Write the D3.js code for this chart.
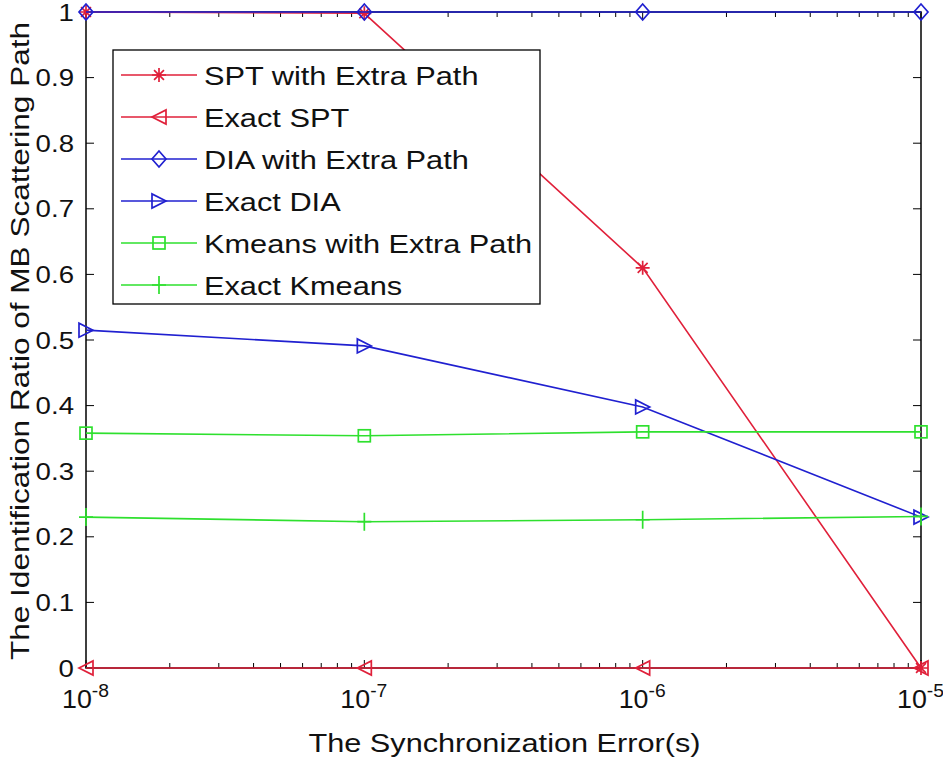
<!DOCTYPE html>
<html><head><meta charset="utf-8">
<script src="https://d3js.org/d3.v7.min.js"></script>
<style>body{margin:0;background:#fff}svg{display:block;font-family:"Liberation Sans",Arial,sans-serif}</style>
</head><body><svg id="c" width="943" height="760"></svg>
<script>
const xValues = [1e-8, 1e-7, 1e-6, 1e-5];
const xTickExponents = [-8, -7, -6, -5];
const yTicks = [0, 0.1, 0.2, 0.3, 0.4, 0.5, 0.6, 0.7, 0.8, 0.9, 1];
const seriesNames = ["SPT with Extra Path", "Exact SPT", "DIA with Extra Path", "Exact DIA", "Kmeans with Extra Path", "Exact Kmeans"];
const sptExtra = [1, 0.998, 0.61, 0];
const sptExact = [0, 0, 0, 0];
const diaExtra = [1, 1, 1, 1];
const diaExact = [0.515, 0.491, 0.398, 0.230];
const kmeansExtra = [0.358, 0.354, 0.360, 0.360];
const kmeansExact = [0.230, 0.223, 0.226, 0.231];
const seriesColors = ["#e0203a", "#e0203a", "#2020d0", "#2020d0", "#2ee02e", "#2ee02e"];
const seriesMarkers = ["star", "triLeft", "diamond", "triRight", "square", "plus"];
const xLabel = "The Synchronization Error(s)";
const yLabel = "The Identification Ratio of MB Scattering Path";

const allSeries = [sptExtra, sptExact, diaExtra, diaExact, kmeansExtra, kmeansExact];
const svg = d3.select("#c");
const L = 86, R = 921, T = 12, B = 668;
const x = d3.scaleLog().domain([1e-8, 1e-5]).range([L, R]);
const y = d3.scaleLinear().domain([0, 1]).range([B, T]);

function stretch(t, k) {
  const w = t.node().getComputedTextLength();
  t.attr("textLength", w * k).attr("lengthAdjust", "spacingAndGlyphs");
  return t;
}

// axes box
const ax = svg.append("g");
ax.append("rect").attr("x", L).attr("y", T).attr("width", R - L).attr("height", B - T)
  .attr("fill", "none").attr("stroke", "#000").attr("stroke-width", 1.5);
yTicks.forEach(v => {
  ax.append("line").attr("x1", L).attr("x2", L + 8).attr("y1", y(v)).attr("y2", y(v)).attr("stroke", "#000");
  ax.append("line").attr("x1", R).attr("x2", R - 8).attr("y1", y(v)).attr("y2", y(v)).attr("stroke", "#000");
  const t = ax.append("text").attr("x", L - 12).attr("y", y(v) + 8.5).attr("text-anchor", "end")
    .attr("font-size", 24).attr("fill", "#111").text(v === 0 ? "0" : v === 1 ? "1" : d3.format(".1f")(v));
  stretch(t, 1.15);
});
const minors = [];
for (let e = -8; e < -5; e++) for (let m = 2; m <= 9; m++) minors.push(m * Math.pow(10, e));
minors.forEach(v => {
  ax.append("line").attr("x1", x(v)).attr("x2", x(v)).attr("y1", B).attr("y2", B - 5).attr("stroke", "#000");
  ax.append("line").attr("x1", x(v)).attr("x2", x(v)).attr("y1", T).attr("y2", T + 5).attr("stroke", "#000");
});
xTickExponents.forEach(e => {
  const v = Math.pow(10, e);
  ax.append("line").attr("x1", x(v)).attr("x2", x(v)).attr("y1", B).attr("y2", B - 8).attr("stroke", "#000");
  ax.append("line").attr("x1", x(v)).attr("x2", x(v)).attr("y1", T).attr("y2", T + 8).attr("stroke", "#000");
  const t = ax.append("text").attr("x", x(v) - 24).attr("y", B + 40)
    .attr("font-size", 25).attr("fill", "#111");
  t.append("tspan").text("10");
  t.append("tspan").attr("dy", -11).attr("font-size", 18).text(String(e));
  t.attr("textLength", 47).attr("lengthAdjust", "spacingAndGlyphs");
});
const xl = svg.append("text").attr("x", (L + R) / 2 + 1).attr("y", 752).attr("text-anchor", "middle")
  .attr("font-size", 25).attr("fill", "#111").text(xLabel);
xl.attr("textLength", 392).attr("lengthAdjust", "spacingAndGlyphs");
const yl = svg.append("text").attr("transform", `translate(29,${(T + B) / 2 + 1}) rotate(-90)`).attr("text-anchor", "middle")
  .attr("font-size", 26).attr("fill", "#111").text(yLabel);
yl.attr("textLength", 638).attr("lengthAdjust", "spacingAndGlyphs");

function marker(g, type, cx, cy, color) {
  const s = 7;
  let el;
  if (type === "star") {
    const p = [];
    for (let k = 0; k < 4; k++) {
      const a = k * Math.PI / 4;
      p.push(`M${cx - s * Math.cos(a)},${cy - s * Math.sin(a)}L${cx + s * Math.cos(a)},${cy + s * Math.sin(a)}`);
    }
    el = g.append("path").attr("d", p.join(""));
  } else if (type === "triLeft") {
    el = g.append("path").attr("d", `M${cx - s},${cy}L${cx + s},${cy - s}L${cx + s},${cy + s}Z`);
  } else if (type === "triRight") {
    el = g.append("path").attr("d", `M${cx + s},${cy}L${cx - s},${cy - s}L${cx - s},${cy + s}Z`);
  } else if (type === "diamond") {
    el = g.append("path").attr("d", `M${cx},${cy - 8}L${cx + 7},${cy}L${cx},${cy + 8}L${cx - 7},${cy}Z`);
  } else if (type === "square") {
    el = g.append("rect").attr("x", cx - 6).attr("y", cy - 6).attr("width", 12).attr("height", 12);
  } else if (type === "plus") {
    el = g.append("path").attr("d", `M${cx - s},${cy}L${cx + s},${cy}M${cx},${cy - 9}L${cx},${cy + 9}`);
  }
  el.attr("fill", "none").attr("stroke", color).attr("stroke-width", 1.7);
}

const line = d3.line().x((d, i) => x(xValues[i])).y(d => y(d));
allSeries.forEach((vals, si) => {
  const g = svg.append("g");
  g.append("path").attr("d", line(vals)).attr("fill", "none")
    .attr("stroke", seriesColors[si]).attr("stroke-width", 1.6);
  vals.forEach((v, i) => marker(g, seriesMarkers[si], x(xValues[i]), y(v), seriesColors[si]));
});

const lg = svg.append("g");
lg.append("rect").attr("x", 113).attr("y", 50).attr("width", 427).attr("height", 254)
  .attr("fill", "#fff").attr("stroke", "#000").attr("stroke-width", 1.3);
seriesNames.forEach((n, i) => {
  const cy = 75 + i * 42;
  lg.append("line").attr("x1", 121).attr("x2", 197).attr("y1", cy).attr("y2", cy)
    .attr("stroke", seriesColors[i]).attr("stroke-width", 1.6);
  marker(lg, seriesMarkers[i], 159, cy, seriesColors[i]);
  const t = lg.append("text").attr("x", 204).attr("y", cy + 9.5).attr("font-size", 26.5).attr("fill", "#111").text(n);
  stretch(t, 1.16);
});
</script></body></html>
